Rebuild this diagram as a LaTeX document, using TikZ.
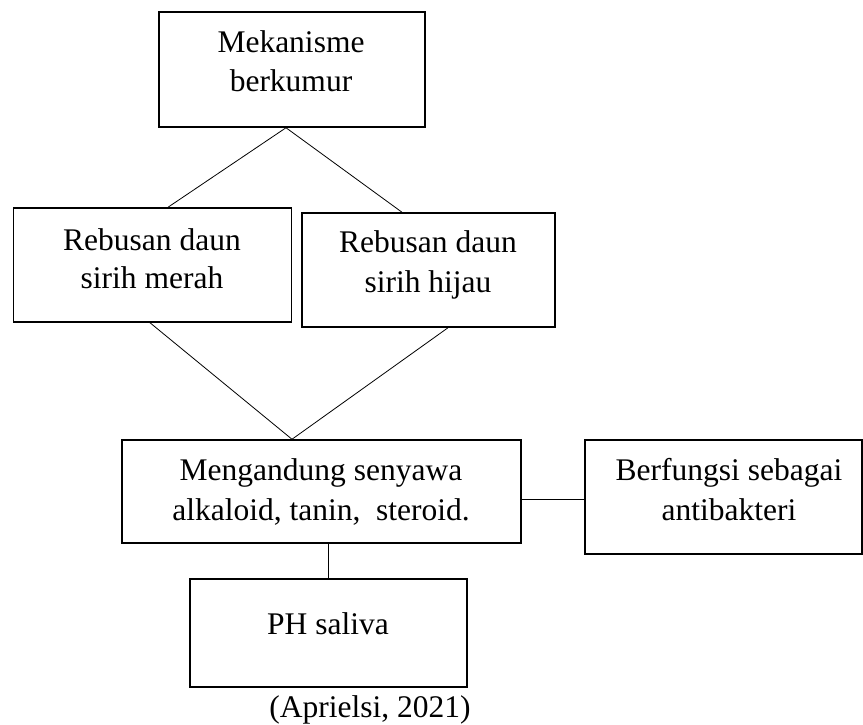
\documentclass[tikz,border=0pt]{standalone}
\usepackage{fontspec}
\setmainfont{Liberation Serif}
\usetikzlibrary{calc}
\begin{document}
\begin{tikzpicture}[x=1pt,y=-1pt,
  box/.style={draw, line width=1.5pt, inner sep=0pt},
  txt/.style={font=\fontsize{31.5}{38}\selectfont, anchor=base, inner sep=0pt},
  conn/.style={line width=0.8pt}]
\useasboundingbox (0,0) rectangle (863,725);
% boxes
\node[box, minimum width=266pt, minimum height=115pt] (mk) at (292,69.5) {};
\node[box, minimum width=278pt, minimum height=114pt] (lb) at (152.5,265) {};
\node[box, minimum width=253pt, minimum height=114pt] (rb) at (428.5,270) {};
\node[box, minimum width=399pt, minimum height=103pt] (mg) at (321.5,491.5) {};
\node[box, minimum width=277pt, minimum height=114pt] (bf) at (723.5,497) {};
\node[box, minimum width=277pt, minimum height=108pt] (ph) at (328.5,633) {};
% texts
\node[txt] (mk1) at (291,53) {Mekanisme};
\node[txt] (mk2) at (291,92) {berkumur};
\node[txt] (lb1) at (152,250) {Rebusan daun};
\node[txt] (lb2) at (152,288) {sirih merah};
\node[txt] (rb1) at (428,252) {Rebusan daun};
\node[txt] (rb2) at (428,292) {sirih hijau};
\node[txt] (mg1) at (321,480) {Mengandung senyawa};
\node[txt] (mg2) at (321,520) {alkaloid, tanin,\ \ steroid.};
\node[txt] (bf1) at (729,480) {Berfungsi sebagai};
\node[txt] (bf2) at (729,520) {antibakteri};
\node[txt] (ph1) at (328,634) {PH saliva};
\node[txt] (cite) at (370,717) {(Aprielsi, 2021)};
% connectors
\coordinate (apex) at ($(mk.south)+(-6,0)$);
\coordinate (meet) at ($(mg.north)+(-29.5,0)$);
\draw[conn] (apex) -- ($(lb.north)+(15.5,0)$);
\draw[conn] (apex) -- ($(rb.north)+(-26.5,0)$);
\draw[conn] ($(lb.south)+(-2.5,0)$) -- (meet);
\draw[conn] ($(rb.south)+(19.5,0)$) -- (meet);
\draw[conn] (ph.north |- mg.south) -- (ph.north);
\coordinate (h) at ($(mg.east)+(0,7.5)$);
\draw[conn] (h) -- (h -| bf.west);
\end{tikzpicture}
\end{document}
